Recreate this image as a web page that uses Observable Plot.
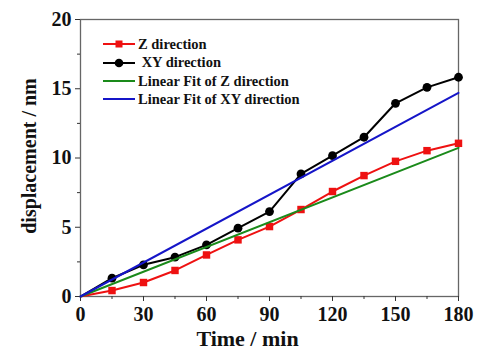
<!DOCTYPE html>
<html><head><meta charset="utf-8">
<script src="https://cdn.jsdelivr.net/npm/d3@7"></script>
<script src="https://cdn.jsdelivr.net/npm/@observablehq/plot@0.6"></script>
<style>
body{margin:0;background:#fff;}
#wrap{position:relative;width:497px;height:362px;}
#legend{position:absolute;left:103px;top:35px;font-family:'Liberation Serif',serif;font-weight:bold;font-size:14.5px;line-height:18.4px;color:#111;}
#legend div{display:flex;align-items:center;height:18.4px;}
#legend span{font-family:'Liberation Serif',serif;}
#legend svg{margin-right:3px;}
</style></head>
<body><div id="wrap"><div id="legend"></div></div>
<script>
const time = [0, 15, 30, 45, 60, 75, 90, 105, 120, 135, 150, 165, 180];
const zDir = [0, 0.43, 1.01, 1.88, 3.0, 4.09, 5.05, 6.28, 7.58, 8.73, 9.76, 10.53, 11.06];
const xyDir = [0, 1.32, 2.29, 2.84, 3.73, 4.93, 6.13, 8.85, 10.17, 11.5, 13.95, 15.1, 15.83];
const fitTime = [0, 180];
const fitZ = [0, 10.73];
const fitXY = [0, 14.7];
const xTicks = [0, 30, 60, 90, 120, 150, 180];
const xMinor = [15, 45, 75, 105, 135, 165];
const yTicks = [0, 5, 10, 15, 20];
const yMinor = [2.5, 7.5, 12.5, 17.5];
const seriesNames = ["Z direction", "XY direction", "Linear Fit of Z direction", "Linear Fit of XY direction"];
const colors = ["#ee1111", "#000000", "#1a8a1a", "#1515c8"];

const zData = time.map((t, i) => ({t, v: zDir[i]}));
const xyData = time.map((t, i) => ({t, v: xyDir[i]}));
const fzData = fitTime.map((t, i) => ({t, v: fitZ[i]}));
const fxyData = fitTime.map((t, i) => ({t, v: fitXY[i]}));
const font = "'Liberation Serif', serif";

const chart = Plot.plot({
  width: 497, height: 362,
  marginLeft: 80, marginRight: 39, marginTop: 19, marginBottom: 66,
  x: {domain: [0, 180]},
  y: {domain: [0, 20]},
  style: {fontFamily: font, background: "#fff"},
  marks: [
    Plot.frame({stroke: "#666", strokeWidth: 1.3}),
    Plot.axisX({ticks: xMinor, tickSize: 3, text: null, label: null, stroke: "#333"}),
    Plot.axisY({ticks: yMinor, tickSize: 3, text: null, label: null, stroke: "#333"}),
    Plot.axisX({ticks: xTicks, tickSize: 5, tickPadding: 5, label: null, fontSize: 20, fontWeight: "bold", stroke: "#333", fill: "#111"}),
    Plot.axisY({ticks: yTicks, tickSize: 5, tickPadding: 4, label: null, fontSize: 20, fontWeight: "bold", stroke: "#333", fill: "#111"}),
    Plot.line(zData, {x: "t", y: "v", stroke: colors[0], strokeWidth: 2}),
    Plot.dot(zData.slice(1), {x: "t", y: "v", symbol: "square", r: 4.2, fill: colors[0]}),
    Plot.line(xyData, {x: "t", y: "v", stroke: colors[1], strokeWidth: 2}),
    Plot.dot(xyData.slice(1), {x: "t", y: "v", r: 4.4, fill: colors[1]}),
    Plot.line(fzData, {x: "t", y: "v", stroke: colors[2], strokeWidth: 2}),
    Plot.line(fxyData, {x: "t", y: "v", stroke: colors[3], strokeWidth: 2}),
    Plot.text(["Time / min"], {frameAnchor: "bottom", dx: -22, dy: 34, lineAnchor: "top", fontSize: 22, fontWeight: "bold", fill: "#111"}),
    Plot.text(["displacement / nm"], {frameAnchor: "left", dx: -51, dy: -2, rotate: -90, textAnchor: "middle", fontSize: 20, fontWeight: "bold", fill: "#111"})
  ]
});
document.getElementById("wrap").prepend(chart);

const leg = document.getElementById("legend");
seriesNames.forEach((name, i) => {
  const row = document.createElement("div");
  let marker = "";
  if (i === 0) marker = `<rect x="12.5" y="3.5" width="7" height="7" fill="${colors[i]}"/>`;
  if (i === 1) marker = `<circle cx="16" cy="7" r="4.3" fill="${colors[i]}"/>`;
  row.innerHTML = `<svg width="32" height="14"><line x1="0" x2="32" y1="7" y2="7" stroke="${colors[i]}" stroke-width="2"/>${marker}</svg><span>${i === 1 ? "&nbsp;" : ""}${name}</span>`;
  leg.appendChild(row);
});
</script></body></html>
